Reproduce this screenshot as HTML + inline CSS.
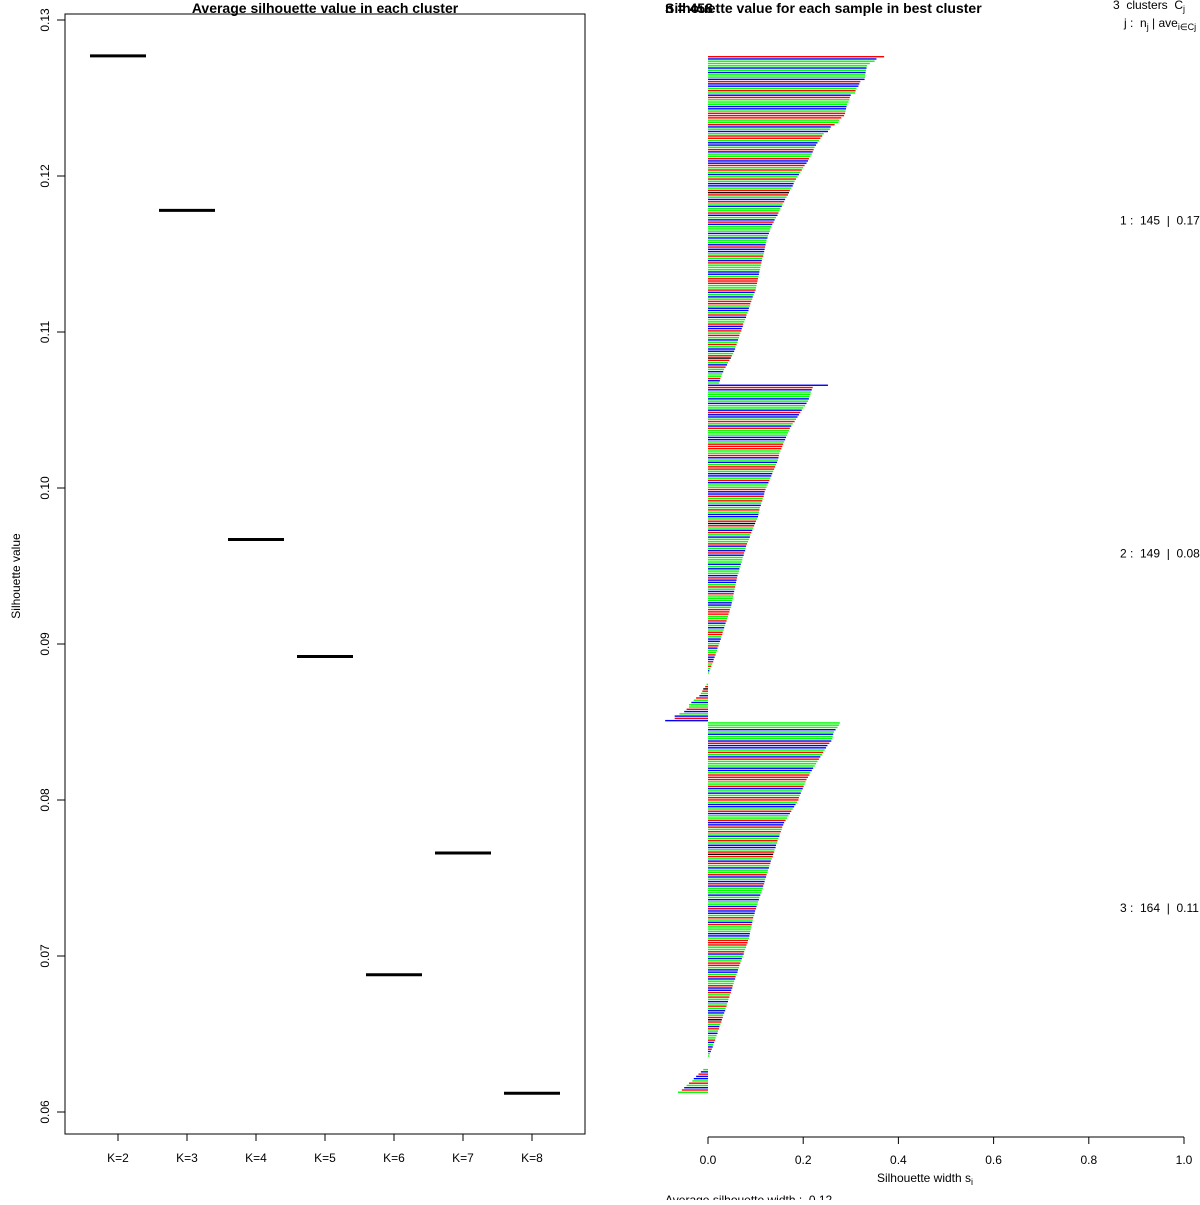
<!DOCTYPE html>
<html><head><meta charset="utf-8"><style>
body{margin:0;background:#fff}
svg text{font-family:"Liberation Sans",sans-serif;fill:#000;white-space:pre}
</style></head><body>
<svg id="chart" width="1200" height="1200" xmlns="http://www.w3.org/2000/svg">
<text x="325" y="13" font-size="14" font-weight="bold" text-anchor="middle">Average silhouette value in each cluster</text>
<rect x="65" y="14" width="520" height="1120" fill="none" stroke="#000" stroke-width="1"/>
<text transform="translate(20,576) rotate(-90)" font-size="12" text-anchor="middle">Silhouette value</text>
<g id="left"></g>
<text x="665" y="13" font-size="14" font-weight="bold">n = 458</text>
<text x="665" y="13" font-size="14" font-weight="bold">Silhouette value for each sample in best cluster</text>
<text x="1113" y="9" font-size="12">3  clusters  C<tspan font-size="9" dy="3">j</tspan></text>
<text x="1124" y="27" font-size="12">j :  n<tspan font-size="9" dy="3">j</tspan><tspan dy="-3"> | ave</tspan><tspan font-size="9" dy="3">i∈Cj</tspan><tspan dy="-3">  s</tspan></text>
<g id="right"></g>
<text x="925" y="1182" font-size="12" text-anchor="middle">Silhouette width s<tspan font-size="9" dy="3">i</tspan></text>
<text x="665" y="1204" font-size="12">Average silhouette width :  0.12</text>
</svg>
<script>
const NS="http://www.w3.org/2000/svg";
// Left chart data
const kLabels=["K=2","K=3","K=4","K=5","K=6","K=7","K=8"];
const avgSil=[0.1277,0.1178,0.0967,0.0892,0.0688,0.0766,0.0612];
const yTicks=[0.06,0.07,0.08,0.09,0.10,0.11,0.12,0.13];
const yTickLabels=["0.06","0.07","0.08","0.09","0.10","0.11","0.12","0.13"];
// Right chart data
const clusterSizes=[145,149,164];
const clusterLabels=["1 :  145  |  0.17","2 :  149  |  0.08","3 :  164  |  0.11"];
const xTicks=[0,0.2,0.4,0.6,0.8,1.0];
const xTickLabels=["0.0","0.2","0.4","0.6","0.8","1.0"];
const sil1=[0.370,0.354,0.350,0.340,0.334,0.333,0.332,0.331,0.330,0.330,0.329,0.320,0.318,0.316,0.312,0.310,0.309,0.300,0.298,0.297,0.295,0.292,0.291,0.290,0.289,0.288,0.286,0.280,0.276,0.274,0.266,0.258,0.256,0.252,0.243,
0.240,0.236,0.233,0.230,0.227,0.224,0.222,0.220,0.218,0.215,0.212,0.210,
0.207,0.203,0.200,0.197,0.194,0.191,0.188,0.185,0.182,0.180,
0.178,0.175,0.172,0.170,0.168,0.165,0.162,0.160,
0.157,0.155,0.152,0.150,0.148,0.146,0.143,0.140,0.138,0.135,0.133,0.131,0.130,
0.128,0.126,0.125,0.123,0.122,0.121,0.120,0.119,0.118,0.117,0.116,0.114,0.113,
0.112,0.111,0.110,0.109,0.108,0.107,0.106,0.105,0.104,0.103,0.102,0.101,0.100,
0.098,0.096,0.094,0.093,0.091,0.089,0.088,0.086,0.085,0.083,0.081,0.080,0.078,
0.076,0.074,0.073,0.071,0.070,0.068,0.066,0.065,0.063,0.062,0.060,0.058,0.057,
0.055,0.053,0.050,0.048,0.045,0.042,0.040,0.037,0.034,0.032,0.030,
0.028,0.026,0.025,0.023];
const sil2=[0.252,0.220,0.218,0.216,0.215,0.213,0.212,0.210,
0.207,0.204,0.200,0.197,0.194,0.191,0.188,0.185,0.182,0.178,0.175,0.172,0.170,
0.168,0.166,0.164,0.162,0.160,0.158,0.156,0.154,0.152,0.150,0.149,0.148,0.147,
0.145,0.143,0.141,0.139,0.137,0.135,0.133,0.131,0.129,0.127,0.125,0.123,0.121,
0.119,0.118,0.117,0.115,0.114,0.112,0.111,0.109,0.108,0.107,0.106,0.105,0.103,
0.101,0.099,0.097,0.095,0.093,0.091,0.089,0.088,0.086,0.084,0.082,0.080,0.079,0.078,
0.076,0.075,0.073,0.072,0.071,0.069,0.068,0.066,0.065,0.064,0.062,0.061,0.060,
0.059,0.058,0.057,0.056,0.055,0.054,0.053,0.052,0.051,0.050,0.049,0.048,0.046,
0.045,0.043,0.042,0.040,0.039,0.037,0.036,0.034,0.033,0.031,0.030,0.028,0.027,0.025,
0.024,0.022,0.020,0.019,0.017,0.016,0.014,0.012,0.011,0.009,0.007,0.005,0.003,0.002,
0,0,0,0,
-0.003,-0.006,-0.010,-0.012,-0.015,-0.018,-0.025,-0.030,-0.035,-0.040,-0.040,-0.045,-0.050,-0.060,-0.070,-0.070,-0.090];
const sil3=[0.277,0.275,0.272,0.268,0.265,0.263,0.262,0.261,0.259,
0.255,0.251,0.248,0.245,0.242,0.240,0.236,0.233,0.230,
0.227,0.224,0.221,0.218,0.215,0.213,0.210,0.207,0.205,
0.203,0.201,0.199,0.197,0.195,0.193,0.191,0.190,
0.187,0.184,0.181,0.178,0.175,0.172,0.169,0.166,0.163,0.160,0.158,0.156,0.155,
0.153,0.151,0.150,0.148,0.146,0.145,0.143,0.142,0.140,0.139,0.137,0.136,0.134,
0.132,0.131,0.129,0.128,0.126,0.125,0.123,0.122,0.120,0.119,0.118,0.116,0.115,0.113,
0.112,0.110,0.108,0.107,0.105,0.104,0.102,0.101,0.099,0.098,0.097,0.095,0.094,
0.093,0.092,0.091,0.090,0.089,0.088,0.087,0.086,0.084,0.083,0.081,0.080,0.078,
0.076,0.075,0.073,0.071,0.070,0.068,0.066,0.065,0.063,0.062,0.060,0.058,0.057,
0.055,0.054,0.052,0.051,0.049,0.048,0.046,0.045,0.043,0.042,0.040,0.039,0.037,0.036,
0.034,0.032,0.031,0.029,0.028,0.026,0.024,0.023,0.021,0.020,0.018,0.016,0.015,
0.013,0.011,0.010,0.008,0.006,0.004,0.003,
0,0,0,0,0,
-0.010,-0.015,-0.020,-0.025,-0.030,-0.033,-0.040,-0.045,-0.050,-0.055,-0.063];
const sampleColors="rbgggbgbggbrbbgrgbrgggbbgrrrggrbgbgrrgbbgrbggrbbrgrgbgrgbbgrkrgbrgbggrbgb";

const COLORS={r:"#ff0000",g:"#00ff00",b:"#0000ff",k:"#000000"};
function mk(tag,attrs,parent){const e=document.createElementNS(NS,tag);for(const k in attrs)e.setAttribute(k,attrs[k]);parent.appendChild(e);return e;}

// Left axes
const L=document.getElementById('left');
const yL=v=>1112-(v-0.06)/0.07*1092;
const xL=i=>118+i*69;
yTicks.forEach((t,i)=>{
  const ln=mk('line',{x1:57,x2:65,y1:yL(t),y2:yL(t),stroke:'#000'},L);
  
  
  const tx=mk('text',{transform:`translate(49,${yL(t)}) rotate(-90)`,'font-size':12,'text-anchor':'middle'},L);
  tx.textContent=yTickLabels[i];
  
  
});
kLabels.forEach((k,i)=>{
  const tk=mk('line',{x1:xL(i),x2:xL(i),y1:1134,y2:1141,stroke:'#000'},L);
  
  
  const tx=mk('text',{x:xL(i),y:1162,'font-size':12,'text-anchor':'middle'},L);
  tx.textContent=k;
  
  
  const seg=mk('line',{x1:xL(i)-28,x2:xL(i)+28,y1:yL(avgSil[i]),y2:yL(avgSil[i]),stroke:'#000','stroke-width':3},L);
  
  
});

// Right silhouette bars
const R=document.getElementById('right');
const xR=v=>708+v*476;
const pitch=2.266, top0=56;
const allSil=[sil1,sil2,sil3];
let idx=0;
allSil.forEach((arr,c)=>{
  const startIdx=idx;
  arr.forEach((v,j)=>{
    const col=COLORS[sampleColors[idx%sampleColors.length]];
    const x0=Math.min(xR(0),xR(v)), w=Math.abs(xR(v)-xR(0));
    if(w>0){
      const r=mk('rect',{x:x0,y:top0+idx*pitch,width:w,height:1.4,fill:col},R);
      
      
    }
    idx++;
  });
  const mid=top0+(startIdx+arr.length/2)*pitch;
  const lab=mk('text',{x:1120,y:mid+4,'font-size':12},R);
  lab.textContent=clusterLabels[c];
  
  
});
// Right x axis
const ax=mk('line',{x1:xR(0),x2:xR(1),y1:1137,y2:1137,stroke:'#000'},R);


xTicks.forEach((t,i)=>{
  const tk=mk('line',{x1:xR(t),x2:xR(t),y1:1137,y2:1144,stroke:'#000'},R);
  
  
  const tx=mk('text',{x:xR(t),y:1164,'font-size':12,'text-anchor':'middle'},R);
  tx.textContent=xTickLabels[i];
  
  
});
</script>
</body></html>
